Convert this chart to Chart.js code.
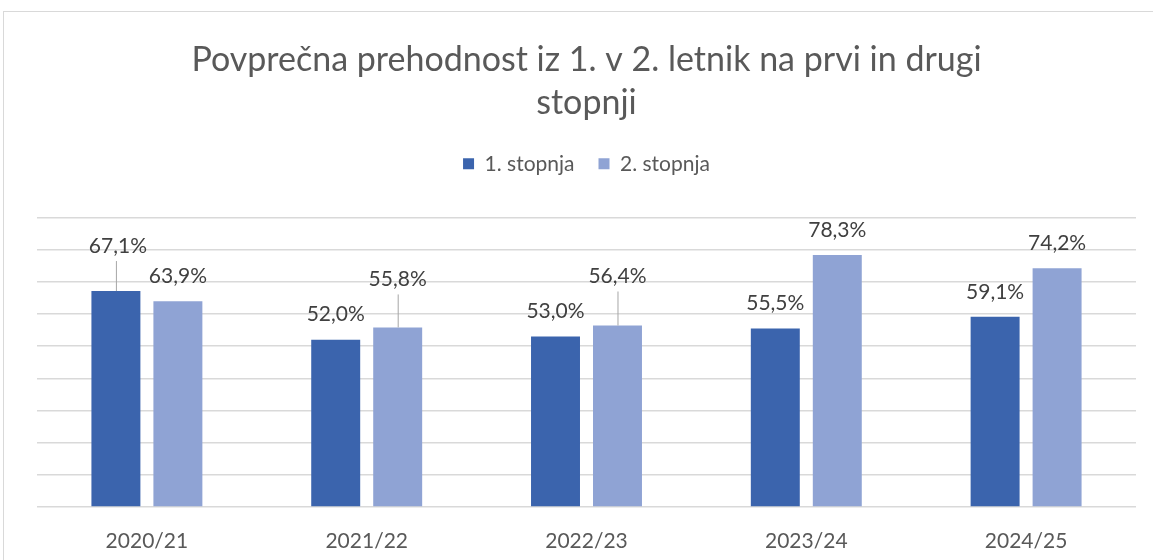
<!DOCTYPE html>
<html>
<head>
<meta charset="utf-8">
<script src="https://cdn.jsdelivr.net/npm/chart.js@4"></script>
<style>
  html, body { margin: 0; padding: 0; background: #fff; overflow: hidden; }
  #frame { position: absolute; left: 3px; top: 11px; width: 1200px; height: 600px; border: 1px solid #d9d9d9; }
  #wrap { position: absolute; left: 0; top: 0; width: 1153px; height: 560px; }
</style>
</head>
<body>
<div id="frame"></div>
<div id="wrap"><canvas id="chart" width="1153" height="560"></canvas></div>
<script>
// data
const years = ["2020/21", "2021/22", "2022/23", "2023/24", "2024/25"];
const stopnja1 = [67.1, 52.0, 53.0, 55.5, 59.1];
const stopnja2 = [63.9, 55.8, 56.4, 78.3, 74.2];
const seriesNames = ["1. stopnja", "2. stopnja"];

// labels that Excel pushed up with a leader line
const liftedLabels = { "0-0": 20, "1-1": 23, "1-2": 24 };

const fontName = "Lato, 'Open Sans', sans-serif";

const labelPlugin = {
  id: "barLabels",
  afterDatasetsDraw(chart) {
    const ctx = chart.ctx;
    ctx.save();
    ctx.font = "21px " + fontName;
    ctx.fillStyle = "#404040";
    ctx.textAlign = "center";
    ctx.textBaseline = "middle";
    chart.data.datasets.forEach((ds, di) => {
      chart.getDatasetMeta(di).data.forEach((bar, i) => {
        const lift = liftedLabels[di + "-" + i] || 0;
        const y = bar.y - 25 - lift;
        const txt = ds.data[i].toFixed(1).replace(".", ",") + "%";
        if (lift) {
          ctx.strokeStyle = "#a6a6a6";
          ctx.lineWidth = 1;
          ctx.beginPath();
          ctx.moveTo(bar.x + 0.5, y + 15);
          ctx.lineTo(bar.x + 0.5, bar.y);
          ctx.stroke();
        }
        ctx.fillText(txt, bar.x + (di === 0 && i === 0 ? 2 : 0), y);
      });
    });
    ctx.restore();
  }
};

// extra room under the legend, like the Excel layout
const legendSpace = {
  id: "legendSpace",
  beforeInit(chart) {
    const fit = chart.legend.fit;
    chart.legend.fit = function () {
      fit.call(this);
      this.height += 33;
    };
  }
};

new Chart(document.getElementById("chart"), {
  type: "bar",
  data: {
    labels: years,
    datasets: [
      { label: seriesNames[0], data: stopnja1, backgroundColor: "#3b64ad" },
      { label: seriesNames[1], data: stopnja2, backgroundColor: "#8fa3d4" },
    ],
  },
  options: {
    responsive: false,
    animation: false,
    layout: { padding: { left: 37, right: 17, top: 0, bottom: 0 } },
    datasets: { bar: { categoryPercentage: 0.564, barPercentage: 0.79 } },
    plugins: {
      title: {
        display: true,
        text: ["Povprečna prehodnost iz 1. v 2. letnik na prvi in drugi", "stopnji"],
        color: "#595959",
        font: { family: fontName, size: 34, weight: "normal", lineHeight: 1.27 },
        padding: { top: 38, bottom: 5 },
      },
      legend: {
        labels: {
          color: "#595959",
          font: { family: fontName, size: 21 },
          boxWidth: 11,
          boxHeight: 11,
          padding: 24,
        },
      },
      tooltip: { enabled: false },
    },
    scales: {
      x: {
        grid: { display: false, drawTicks: false },
        border: { display: false },
        ticks: { color: "#595959", font: { family: fontName, size: 21 }, padding: 22 },
        afterFit(scale) { scale.height = 53; },
      },
      y: {
        min: 0,
        max: 90,
        ticks: { display: false, stepSize: 10 },
        border: { display: false },
        grid: { color: "#d9d9d9", lineWidth: 1.5, drawTicks: false },
      },
    },
  },
  plugins: [labelPlugin, legendSpace],
});
</script>
</body>
</html>
